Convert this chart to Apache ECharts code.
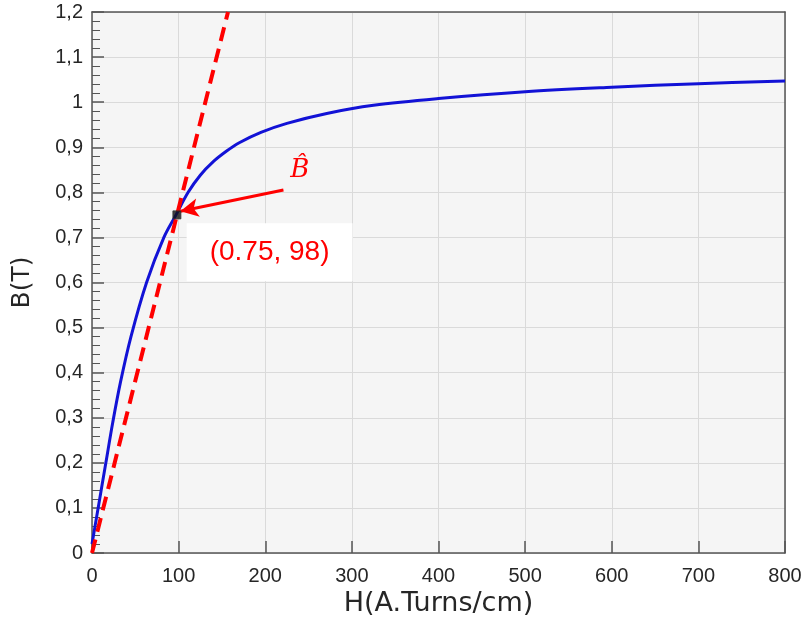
<!DOCTYPE html>
<html>
<head>
<meta charset="utf-8">
<script src="https://cdn.jsdelivr.net/npm/echarts@6/dist/echarts.min.js"></script>
<style>
  html, body { margin: 0; padding: 0; background: #fff; }
  #chart { width: 805px; height: 624px; }
</style>
</head>
<body>
<div id="chart"></div>
<script>
	// magnetisation curve
	var hValues = [0, 8, 16, 24, 33, 45, 63, 83, 97, 111, 125, 140, 155, 170, 195, 225, 271, 325, 400, 500, 600, 700, 800];
	var bValues = [0.02, 0.11, 0.2, 0.29, 0.38, 0.48, 0.6, 0.7, 0.75, 0.8, 0.838, 0.868, 0.891, 0.91, 0.933, 0.953, 0.975, 0.993, 1.008, 1.023, 1.033, 1.041, 1.047];

	// tangent (dashed red) line
	var tangentH = [0, 157];
	var tangentB = [0, 1.2];

	// operating point
	var pointH = 98;
	var pointB = 0.75;
	var pointText = '(0.75, 98)';

	// arrow from the B-hat label to the point
	var arrowFrom = [221, 0.805];
	var arrowTo = [102, 0.758];
	var hatLabelPos = [240, 0.85];
	var boxLabelPos = [205, 0.667];

	var xTicks = [0, 100, 200, 300, 400, 500, 600, 700, 800];
	var yTicks = [0, 0.1, 0.2, 0.3, 0.4, 0.5, 0.6, 0.7, 0.8, 0.9, 1, 1.1, 1.2];

	var curveData = [];
	for (var i = 0; i < hValues.length; i++) {
		curveData.push([hValues[i], bValues[i]]);
	}
	var tangentData = [];
	for (var i = 0; i < tangentH.length; i++) {
		tangentData.push([tangentH[i], tangentB[i]]);
	}

	var axisColor = '#555';
	var labelColor = '#262626';
	var labelFont = 'Liberation Sans, Arial, sans-serif';
	var nameFont = 'DejaVu Sans, sans-serif';

	function commaLabel(v) {
		var r = Math.round(v * 10) / 10;
		return String(r).replace('.', ',');
	}

	// ticks point into the plot: tick-only axes shifted inwards by the tick length
	function xAxisBase(pos) {
		return {
			type: 'value', position: pos,
			min: xTicks[0], max: xTicks[xTicks.length - 1], interval: 100,
			axisLine: { show: false },
			axisTick: { show: false },
			axisLabel: { show: false },
			splitLine: { show: false }
		};
	}
	function yAxisBase(pos) {
		return {
			type: 'value', position: pos,
			min: yTicks[0], max: yTicks[yTicks.length - 1], interval: 0.1,
			axisLine: { show: false },
			axisTick: { show: false },
			axisLabel: { show: false },
			splitLine: { show: false }
		};
	}
	function withLine(ax) {
		ax.axisLine = { show: true, onZero: false, lineStyle: { color: axisColor, width: 1.5 } };
		return ax;
	}
	function withTicks(ax) {
		ax.offset = -6;
		ax.axisTick = { show: true, length: 6, lineStyle: { color: axisColor, width: 1.5 } };
		return ax;
	}
	function withMinor(ax) {
		ax.offset = -4;
		ax.minorTick = { show: true, splitNumber: 5, length: 4, lineStyle: { color: axisColor, width: 1 } };
		return ax;
	}

	var xMain = withLine(xAxisBase('bottom'));
	xMain.axisLabel = { show: true, fontSize: 20, color: labelColor, fontFamily: labelFont, margin: 13 };
	xMain.splitLine = { show: true, lineStyle: { color: '#dadada', width: 1 } };
	xMain.name = 'H(A.Turns/cm)';
	xMain.nameLocation = 'middle';
	xMain.nameGap = 34;
	xMain.nameTextStyle = { fontSize: 27, color: labelColor, fontFamily: nameFont };

	var yMain = withLine(yAxisBase('left'));
	yMain.axisLabel = { show: true, fontSize: 20, color: labelColor, fontFamily: labelFont, margin: 9, formatter: commaLabel };
	yMain.splitLine = { show: true, lineStyle: { color: '#dadada', width: 1 } };
	yMain.name = 'B(T)';
	yMain.nameLocation = 'middle';
	yMain.nameGap = 57;
	yMain.nameTextStyle = { fontSize: 25, color: labelColor, fontFamily: nameFont };

	var chart = echarts.init(document.getElementById('chart'));
	var option = {
		animation: false,
		grid: {
			left: 92, right: 20, top: 12, bottom: 71,
			show: true,
			backgroundColor: '#f5f5f5',
			borderWidth: 0
		},
		xAxis: [
			xMain,
			withTicks(xAxisBase('bottom')),
			withLine(xAxisBase('top')),
			withTicks(xAxisBase('top'))
		],
		yAxis: [
			yMain,
			withTicks(yAxisBase('left')),
			withMinor(yAxisBase('left')),
			withLine(yAxisBase('right')),
			withTicks(yAxisBase('right')),
			withMinor(yAxisBase('right'))
		],
		series: [{
			name: 'B-H',
			type: 'line',
			data: curveData,
			smooth: 0.35,
			showSymbol: false,
			lineStyle: { color: '#1212d6', width: 3 },
			z: 3
		}, {
			name: 'tangent',
			type: 'line',
			data: tangentData,
			showSymbol: false,
			lineStyle: { color: '#ff0000', width: 4, type: [14, 8] },
			z: 4,
			markLine: {
				silent: true,
				symbol: ['none', 'arrow'],
				symbolSize: [14, 18],
				label: { show: false },
				lineStyle: { color: '#ff0000', width: 3, type: 'solid' },
				data: [[{ coord: arrowFrom }, { coord: arrowTo }]]
			},
			markPoint: {
				silent: true,
				symbol: 'rect',
				symbolSize: 0,
				data: [{
					coord: hatLabelPos,
					label: {
						show: true,
						formatter: 'B\u0302',
						color: '#ff0000',
						fontSize: 26,
						fontStyle: 'italic',
						fontFamily: 'DejaVu Serif, serif'
					}
				}, {
					coord: boxLabelPos,
					label: {
						show: true,
						formatter: pointText,
						color: '#ff0000',
						fontSize: 28,
						fontFamily: labelFont,
						backgroundColor: '#ffffff',
						padding: [16, 23, 14, 23]
					}
				}]
			}
		}, {
			name: 'point',
			type: 'scatter',
			data: [[pointH, pointB]],
			symbol: 'rect',
			symbolSize: 8,
			itemStyle: { color: '#111', borderColor: '#333', borderWidth: 1 },
			z: 5
		}]
	};
	chart.setOption(option);
</script>
</body>
</html>
